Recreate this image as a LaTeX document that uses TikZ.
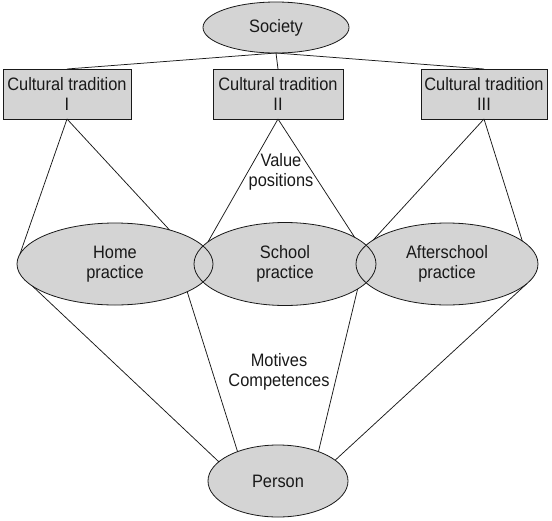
\documentclass[tikz,border=0pt]{standalone}
\usepackage{fontspec}
\setmainfont{Liberation Sans}[FakeStretch=0.91]
\usetikzlibrary{shapes.geometric}
\definecolor{nodefill}{RGB}{212,212,212}
\definecolor{inkc}{RGB}{25,25,25}
\begin{document}
\begin{tikzpicture}[x=1pt,y=-1pt,
  every node/.style={font=\fontsize{18}{20.5}\selectfont, text=inkc, align=center, inner sep=0pt, outer sep=0pt},
  oval/.style={ellipse, fill=nodefill},
  tradbox/.style={rectangle, fill=nodefill, draw=inkc, line width=0.8pt, minimum width=128pt, minimum height=50pt},
  link/.style={draw=inkc, line width=0.75pt},
  rim/.style={draw=inkc, line width=0.8pt}]
\useasboundingbox (0,0) rectangle (552,520);
% ellipse fills with text
\node[oval, minimum width=146pt, minimum height=51pt] (soc) at (276,27.5) {Society};
\node[oval, minimum width=196pt, minimum height=82pt] (home) at (115,264) {Home\\practice};
\node[oval, minimum width=182pt, minimum height=83pt] (school) at (285,264) {School\\practice};
\node[oval, minimum width=182pt, minimum height=82pt] (after) at (447,264) {Afterschool\\practice};
\node[oval, minimum width=140pt, minimum height=72pt] (person) at (278,481) {Person};
% ellipse outlines
\draw[rim] (soc.center) ellipse [x radius=73pt, y radius=25.5pt];
\draw[rim] (home.center) ellipse [x radius=98pt, y radius=41pt];
\draw[rim] (school.center) ellipse [x radius=91pt, y radius=41.5pt];
\draw[rim] (after.center) ellipse [x radius=91pt, y radius=41pt];
\draw[rim] (person.center) ellipse [x radius=70pt, y radius=36pt];
% boxes
\node[tradbox] (t1) at (67,94) {Cultural tradition\\I};
\node[tradbox, minimum width=130pt] (t2) at (278,94) {Cultural tradition\\II};
\node[tradbox, minimum width=126pt] (t3) at (484,94) {Cultural tradition\\III};
% labels
\node (vp) at (281,172) {Value\\positions};
\node (mc) at (279,372) {Motives\\Competences};
% connectors
\draw[link] (soc.south) -- (t1.north);
\draw[link] (soc.south) -- (t2.north);
\draw[link] (soc.south) -- (t3.north);
\draw[link] (t1.south) -- (home.174);
\draw[link] (t1.south) -- (home.32);
\draw[link] (t2.south) -- (school.164);
\draw[link] (t2.south) -- (school.21);
\draw[link] (t3.south) -- (after.162);
\draw[link] (t3.south) -- (after.17.5);
\draw[link] (home.195) -- (person.162);
\draw[link] (home.-21) -- (person.144);
\draw[link] (school.-19) -- (person.36.6);
\draw[link] (after.-14.6) -- (person.20);
\end{tikzpicture}
\end{document}
